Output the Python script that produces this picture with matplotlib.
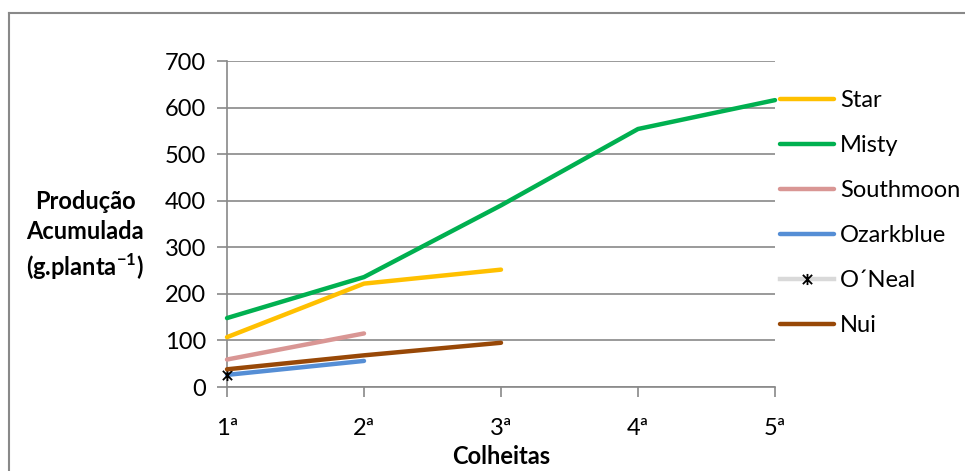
import matplotlib
matplotlib.use('Agg')
import matplotlib.pyplot as plt
import numpy as np
from matplotlib.path import Path
from matplotlib.lines import Line2D

plt.rcParams['font.family'] = ['Lato', 'DejaVu Sans']
plt.rcParams['mathtext.fontset'] = 'custom'
plt.rcParams['mathtext.rm'] = 'Lato'
plt.rcParams['mathtext.bf'] = 'Lato:bold'

# data
colheitas = ['1ª', '2ª', '3ª', '4ª', '5ª']
star = [107, 222, 252]
misty = [148, 236, 390, 554, 616]
southmoon = [59, 115]
ozarkblue = [26, 56]
oneal = [25]
nui = [38, 68, 95]

series = [
    ('Star', star, '#FFC000'),
    ('Misty', misty, '#00B050'),
    ('Southmoon', southmoon, '#D99694'),
    ('Ozarkblue', ozarkblue, '#558ED5'),
    ('O´Neal', oneal, '#D9D9D9'),
    ('Nui', nui, '#984807'),
]

fs = 17

# excel style star marker (x with a vertical bar)
star_marker = Path([(-1, -1), (1, 1), (-1, 1), (1, -1), (0, -1.2), (0, 1.2)],
                   [Path.MOVETO, Path.LINETO, Path.MOVETO, Path.LINETO, Path.MOVETO, Path.LINETO])

fig = plt.figure(figsize=(9.65, 4.71), dpi=100)
ax = fig.add_axes([227 / 965, 1 - 387 / 471, 548 / 965, 326 / 471])

x = np.arange(len(colheitas))
for name, vals, color in series:
    if name == 'O´Neal':
        ax.plot(x[:len(vals)], vals, color=color, lw=3.2, label=name,
                marker=star_marker, markersize=8, markeredgecolor='black',
                markerfacecolor='none', markeredgewidth=1.3, clip_on=False, zorder=3)
    else:
        ax.plot(x[:len(vals)], vals, color=color, lw=3.2, label=name,
                solid_capstyle='round', clip_on=False, zorder=3)

ax.set_xlim(0, 4)
ax.set_ylim(0, 700)
ax.set_yticks(np.arange(0, 701, 100))
ax.set_xticks(x)
ax.set_xticklabels(colheitas)
ax.tick_params(axis='both', labelsize=fs, color='#898989', length=7, width=1.2)
ax.tick_params(axis='y', pad=8)
ax.tick_params(axis='x', pad=15)
ax.yaxis.grid(True, color='#898989', lw=1.2)
ax.set_axisbelow(True)
for s in ['top', 'right']:
    ax.spines[s].set_visible(False)
for s in ['left', 'bottom']:
    ax.spines[s].set_color('#898989')
    ax.spines[s].set_linewidth(1.2)

ax.set_xlabel('Colheitas', fontsize=fs, fontweight='bold', labelpad=5)
fig.text(85 / 965, 1 - 236 / 471, 'Produção\nAcumulada\n(g.planta$^{\\mathbf{-1}}$)',
         ha='center', va='center', fontsize=fs, fontweight='bold', linespacing=1.35)

leg = ax.legend(loc='upper left', bbox_to_anchor=(780 / 965, 1 - 90 / 471),
                bbox_transform=fig.transFigure, frameon=False, fontsize=fs,
                handlelength=2.3, handletextpad=0.25, labelspacing=1.02, borderaxespad=0,
                borderpad=0)

# outer chart frame
fig.add_artist(Line2D([9 / 965, 9 / 965], [0, 1 - 13 / 471], transform=fig.transFigure,
                      color='#898989', lw=1.5))
fig.add_artist(Line2D([9 / 965, 1], [1 - 13 / 471, 1 - 13 / 471], transform=fig.transFigure,
                      color='#898989', lw=1.5))

fig.savefig('out.png', dpi=100)
